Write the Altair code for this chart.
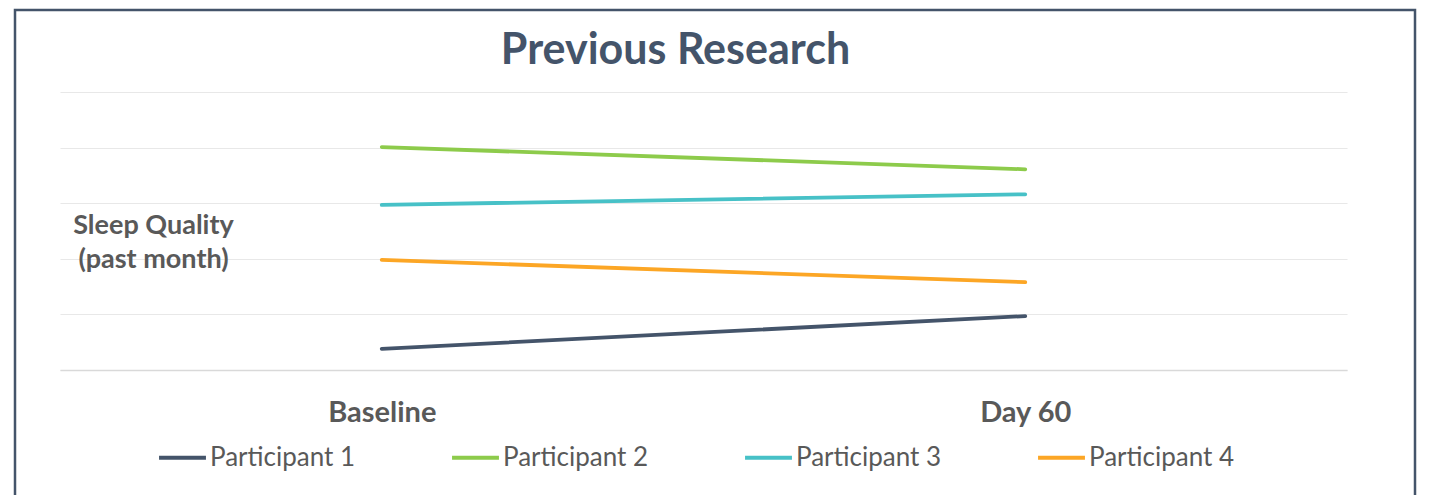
import altair as alt
import pandas as pd

# ---- data ----
timepoints = ["Baseline", "Day 60"]
participants = ["Participant 1", "Participant 2", "Participant 3", "Participant 4"]
baseline_vals = [0.38, 4.01, 2.97, 1.98]
day60_vals = [0.97, 3.61, 3.16, 1.58]
colors = ["#44546A", "#8DCB4B", "#47C1C7", "#FCA625"]
y_ticks = [0, 1, 2, 3, 4, 5]

rows = []
for p, b, d in zip(participants, baseline_vals, day60_vals):
    rows.append({"participant": p, "time": timepoints[0], "value": b})
    rows.append({"participant": p, "time": timepoints[1], "value": d})
df = pd.DataFrame(rows)

W, H = 1287, 278

lines = alt.Chart(df).mark_line(strokeWidth=3.8, strokeCap="round").encode(
    x=alt.X("time:N", sort=timepoints,
            scale=alt.Scale(type="point", padding=0.5),
            axis=alt.Axis(title=None, labelAngle=0, labelFont="Lato",
                          labelFontWeight="bold", labelFontSize=29,
                          labelColor="#595959", ticks=False, tickSize=0,
                          labelPadding=28, grid=False, domain=True,
                          domainColor="#D9D9D9", domainWidth=1.5)),
    y=alt.Y("value:Q", scale=alt.Scale(domain=[0, 5], nice=False, zero=True),
            axis=alt.Axis(values=y_ticks, labels=False, ticks=False,
                          domain=False, grid=True, gridColor="#E8E8E8",
                          gridWidth=1.2,
                          title=["Sleep Quality", "(past month)"],
                          titleAngle=0, titleAlign="center",
                          titleBaseline="alphabetic",
                          titleX=93, titleY=141, titleFont="Lato",
                          titleFontSize=27, titleFontWeight="bold",
                          titleColor="#595959", titleLineHeight=34)),
    color=alt.Color("participant:N", sort=participants,
                    scale=alt.Scale(domain=participants, range=colors),
                    legend=alt.Legend(title=None, orient="none",
                                      direction="horizontal",
                                      legendX=97, legendY=340,
                                      symbolType="stroke",
                                      symbolSize=2200, symbolStrokeWidth=4,
                                      labelFont="Lato", labelFontSize=26,
                                      labelColor="#595959", labelOffset=2,
                                      columnPadding=88, labelLimit=300)),
)

border = alt.Chart(pd.DataFrame({"a": [0]})).mark_rect(
    fill=None, stroke="#44546A", strokeWidth=2.5
).encode(
    x=alt.value(-45), x2=alt.value(1355),
    y=alt.value(-82), y2=alt.value(420),
)

chart = alt.layer(border, lines).properties(
    width=W, height=H,
    title=alt.TitleParams("Previous Research", font="Lato", fontSize=43,
                          fontWeight="bold", color="#44546A",
                          anchor="middle", dx=-28, offset=-98,
                          baseline="alphabetic"),
    padding={"left": 52, "top": 84, "right": 70, "bottom": 130},
    autosize=alt.AutoSizeParams(type="none"),
    background="white",
).configure_view(stroke=None)

chart.save("out.html", embed_options={"renderer": "svg", "actions": False})
